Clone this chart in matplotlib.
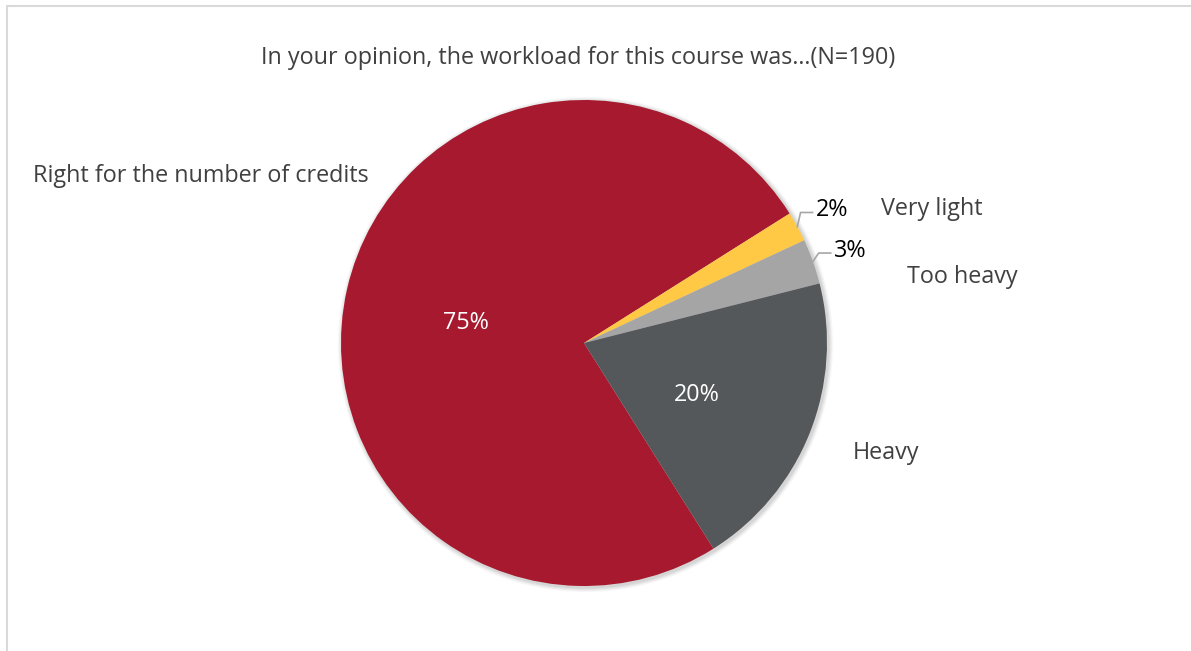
import numpy as np
import matplotlib
matplotlib.use("Agg")
import matplotlib.pyplot as plt
from matplotlib.patches import Circle

''' Data '''
categories = ["Right for the number of credits", "Very light", "Too heavy", "Heavy"]
shares = [75, 2, 3, 20]
colors = ["#A6192E", "#FFC845", "#A5A5A5", "#54585A"]
pct_colors = ["white", "black", "black", "white"]
title = "In your opinion, the workload for this course was\u2026(N=190)"

plt.rcParams["font.family"] = ["Open Sans", "DejaVu Sans"]
FS = 16.8

W, H = 1191, 651
fig = plt.figure(figsize=(W / 100, H / 100), dpi=100)
ax = fig.add_axes([0, 0, 1, 1])

# chart frame (light grey, top and left visible)
ax.plot([7, 7, W], [0, H - 6, H - 6], color="#D9D9D9", lw=1.5, clip_on=False)

cx, cy, R = 584, H - 343, 243

# soft shadow behind pie
for i, a in enumerate([0.05, 0.05, 0.04, 0.03]):
    ax.add_patch(Circle((cx + 1.5, cy - 1.5), R + 1 + i * 1.2, color="black",
                        alpha=a, lw=0, zorder=0))

wedges, _ = ax.pie(shares, colors=colors, startangle=-57.8, counterclock=False,
                   center=(cx, cy), radius=R, frame=True,
                   wedgeprops=dict(linewidth=0))
ax.set_xlim(0, W)
ax.set_ylim(0, H)
ax.set_aspect("equal")
ax.axis("off")

# percentage labels
for w, v, c in zip(wedges, shares, pct_colors):
    mid = np.deg2rad((w.theta1 + w.theta2) / 2)
    if v >= 10:
        d = 0.5 * R
        ax.text(cx + d * np.cos(mid), cy + d * np.sin(mid) - 4, f"{v}%", color=c,
                fontsize=FS, ha="center", va="center_baseline")
    else:
        d = 1.165 * R
        tx, ty = cx + d * np.cos(mid), cy + d * np.sin(mid)
        ax.text(tx, ty, f"{v}%", color=c, fontsize=FS, ha="center", va="center_baseline")
        ex, ey = cx + R * np.cos(mid), cy + R * np.sin(mid)
        kx = tx - 20
        ax.plot([ex, kx - 12, kx], [ey, ty - 5, ty - 5], color="#A6A6A6", lw=1.2)

# category labels
cat_pos = [(201, 173), (932, 206), (962, 274), (886, 450)]
for name, (x, y) in zip(categories, cat_pos):
    ax.text(x, H - y, name, color="#404040", fontsize=FS, ha="center",
            va="center_baseline")

ax.text(578, H - 55, title, color="#404040", fontsize=FS, ha="center",
        va="center_baseline")

fig.savefig("out.png", dpi=100, facecolor="white")
